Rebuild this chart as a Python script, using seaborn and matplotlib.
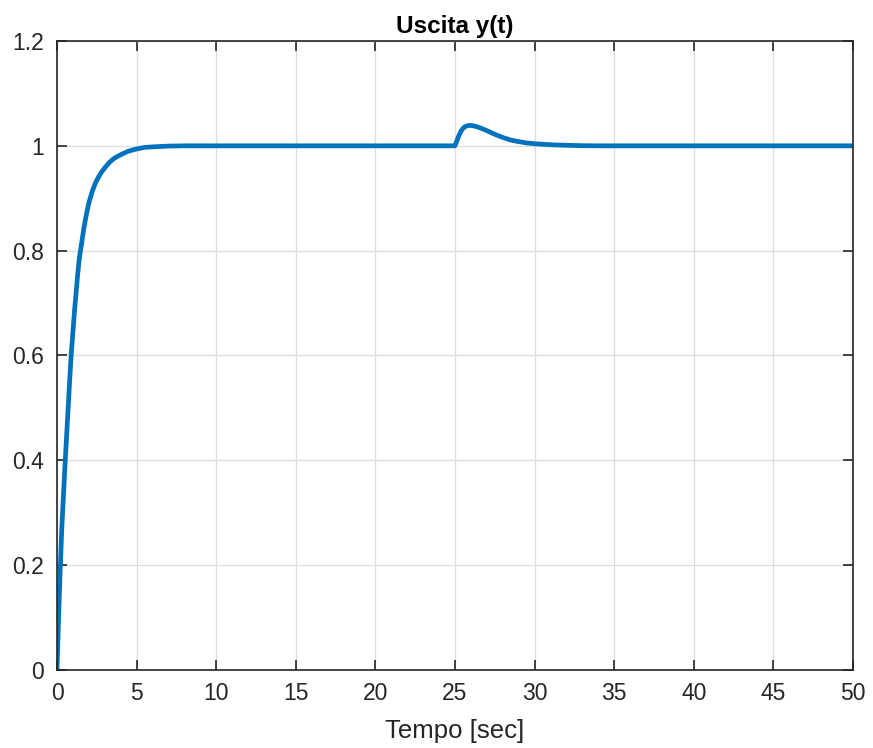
import matplotlib
matplotlib.use("Agg")
import matplotlib.pyplot as plt
import pandas as pd
import seaborn as sns

# values
time_s = [0.0, 0.1, 0.2, 0.3, 0.4, 0.5, 0.6, 0.7, 0.8, 0.9, 1.0, 1.1, 1.2, 1.3, 1.4, 1.5,
          1.6, 1.7, 1.8, 1.9, 2.0, 2.2, 2.4, 2.6, 2.8, 3.0, 3.25, 3.5, 3.75, 4.0, 4.5,
          5.0, 5.5, 6.0, 7.0, 8.0,
          25.0, 25.05, 25.1, 25.2, 25.3, 25.4, 25.5, 25.6, 25.75, 25.9, 26.1, 26.3, 26.6,
          27.0, 27.5, 28.0, 28.5, 29.0, 29.5, 30.0, 30.5, 31.0, 32.0, 33.0, 34.0, 50.0]
y_out = [0.0, 0.10, 0.19, 0.27, 0.33, 0.39, 0.445, 0.50, 0.555, 0.605, 0.645, 0.685, 0.72, 0.755, 0.785, 0.805,
         0.825, 0.845, 0.862, 0.877, 0.891, 0.912, 0.928, 0.94, 0.95, 0.958, 0.967, 0.974, 0.979, 0.983, 0.99,
         0.994, 0.997, 0.998, 0.9995, 1.0,
         1.0, 1.004, 1.008, 1.016, 1.023, 1.029, 1.033, 1.036, 1.038, 1.039, 1.0385, 1.037, 1.034,
         1.029, 1.022, 1.016, 1.011, 1.008, 1.0055, 1.004, 1.003, 1.002, 1.001, 1.0003, 1.0, 1.0]
x_ticks = [0, 5, 10, 15, 20, 25, 30, 35, 40, 45, 50]
y_ticks = [0, 0.2, 0.4, 0.6, 0.8, 1.0, 1.2]
y_tick_labels = ["0", "0.2", "0.4", "0.6", "0.8", "1", "1.2"]

sns.set_style("ticks")
plt.rcParams["font.family"] = ["Liberation Sans", "DejaVu Sans"]

df = pd.DataFrame({"t": time_s, "y": y_out})

fig = plt.figure(figsize=(8.73, 7.48), dpi=100)
ax = fig.add_axes([0.0653, 0.1043, 0.9117, 0.8409])
sns.lineplot(data=df, x="t", y="y", ax=ax, color="#0072BD", linewidth=3.4)

ax.set_xlim(0, 50)
ax.set_ylim(0, 1.2)
ax.set_xticks(x_ticks)
ax.set_yticks(y_ticks)
ax.set_yticklabels(y_tick_labels)
ax.grid(True, color="#dcdcdc", linewidth=0.9)
ax.set_axisbelow(True)
for side in ["top", "right", "bottom", "left"]:
    ax.spines[side].set_visible(True)
    ax.spines[side].set_color("#262626")
    ax.spines[side].set_linewidth(1.2)
ax.tick_params(direction="in", length=7, width=1.2, top=True, right=True,
               labelsize=16.5, colors="#262626")
ax.tick_params(axis="x", pad=9)
ax.tick_params(axis="y", pad=9.5)
ax.set_title("Uscita y(t)", fontsize=17.5, fontweight="bold", color="#000000", pad=5.8)
ax.set_xlabel("Tempo [sec]", fontsize=18.5, color="#262626", labelpad=9.5)
ax.set_ylabel("")

fig.savefig("out.png", dpi=100)
